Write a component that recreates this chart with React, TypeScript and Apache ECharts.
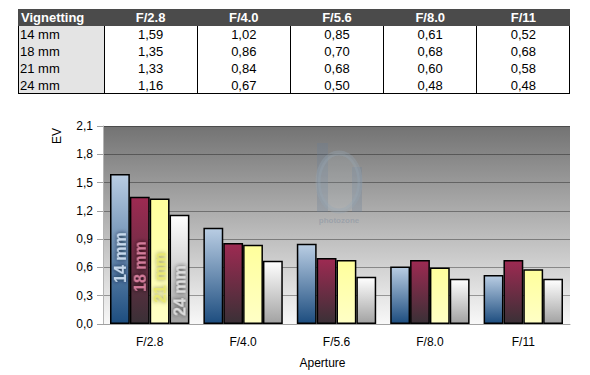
import React, { useEffect, useRef } from "react";
import * as echarts from "echarts";

const apertures = ["F/2.8", "F/4.0", "F/5.6", "F/8.0", "F/11"];
const focalLengths = ["14 mm", "18 mm", "21 mm", "24 mm"];
const vig14 = [1.59, 1.02, 0.85, 0.61, 0.52];
const vig18 = [1.35, 0.86, 0.7, 0.68, 0.68];
const vig21 = [1.33, 0.84, 0.68, 0.6, 0.58];
const vig24 = [1.16, 0.67, 0.5, 0.48, 0.48];
const seriesValues = [vig14, vig18, vig21, vig24];
const tableTitle = "Vignetting";
const yAxisName = "EV";
const xAxisName = "Aperture";
const yMin = 0;
const yMax = 2.1;
const yStep = 0.3;

const FONT = "Arial, 'Liberation Sans', sans-serif";

const barStyles = [
  { top: "#b9cde3", bottom: "#1d4d7f", label: "#c6d8ec", shadow: "rgba(10,25,45,0.95)", dist: 41 },
  { top: "#9e2a52", bottom: "#3a3036", label: "#d27c9a", shadow: "rgba(20,5,10,0.95)", dist: 32 },
  { top: "#ffff9c", bottom: "#ffffc6", label: "#e8e872", shadow: "rgba(110,110,60,0.8)", dist: 21 },
  { top: "#ffffff", bottom: "#a2a2a2", label: "#dcdcdc", shadow: "rgba(40,40,40,0.95)", dist: 8 },
];

const fmt = (v: number) => v.toFixed(1).replace(".", ",");
const fmtCell = (v: number) => v.toFixed(2).replace(".", ",");

const TBL_LEFT = 18;
const TBL_TOP = 9;
const FIRST_W = 86;
const COL_W = 93.2;
const ROW_H = 17;

function Table() {
  const totalW = FIRST_W + COL_W * apertures.length;
  const cells: React.ReactNode[] = [];
  // header
  cells.push(
    <div key="hdr" style={{ position: "absolute", left: 0, top: 0, width: totalW, height: ROW_H, background: "#4b4b4b" }} />
  );
  cells.push(
    <div key="hdr-t" style={{ position: "absolute", left: 3, top: 0, height: ROW_H, lineHeight: ROW_H + "px", color: "#fff", fontWeight: "bold", fontSize: 13 }}>
      {tableTitle}
    </div>
  );
  apertures.forEach((a, j) => {
    cells.push(
      <div key={"h" + j} style={{ position: "absolute", left: FIRST_W + j * COL_W, top: 0, width: COL_W, height: ROW_H, lineHeight: ROW_H + "px", textAlign: "center", color: "#fff", fontWeight: "bold", fontSize: 13 }}>
        {a}
      </div>
    );
  });
  // body box
  const bodyH = ROW_H * focalLengths.length;
  cells.push(
    <div key="body" style={{ position: "absolute", left: 0, top: ROW_H, width: totalW, height: bodyH, boxSizing: "border-box", border: "1px solid #000", borderTop: "none", background: "#fff" }} />
  );
  cells.push(
    <div key="firstcol" style={{ position: "absolute", left: 1, top: ROW_H, width: FIRST_W - 1, height: bodyH - 1, background: "#e4e4e4" }} />
  );
  for (let j = 0; j < apertures.length; j++) {
    cells.push(
      <div key={"v" + j} style={{ position: "absolute", left: FIRST_W + j * COL_W - 0.5, top: ROW_H, width: 1, height: bodyH, background: "#000" }} />
    );
  }
  focalLengths.forEach((f, i) => {
    cells.push(
      <div key={"r" + i} style={{ position: "absolute", left: 2, top: ROW_H * (i + 1), height: ROW_H, lineHeight: ROW_H + "px", color: "#000", fontSize: 13 }}>
        {f}
      </div>
    );
    seriesValues[i].forEach((v, j) => {
      cells.push(
        <div key={"c" + i + "-" + j} style={{ position: "absolute", left: FIRST_W + j * COL_W, top: ROW_H * (i + 1), width: COL_W, height: ROW_H, lineHeight: ROW_H + "px", textAlign: "center", color: "#000", fontSize: 13 }}>
          {fmtCell(v)}
        </div>
      );
    });
  });
  return (
    <div style={{ position: "absolute", left: TBL_LEFT, top: TBL_TOP, width: totalW, height: ROW_H * 5, fontFamily: FONT, zIndex: 2 }}>
      {cells}
    </div>
  );
}

export default function App() {
  const ref = useRef<HTMLDivElement>(null);
  useEffect(() => {
    if (!ref.current) return;
    const chart = echarts.init(ref.current, undefined, { renderer: "svg" });
    const series = focalLengths.map((name, k) => {
      const st = barStyles[k];
      return {
        name,
        type: "bar",
        barCategoryGap: "15%",
        barGap: "0%",
        itemStyle: {
          color: new echarts.graphic.LinearGradient(0, 0, 0, 1, [
            { offset: 0, color: st.top },
            { offset: 1, color: st.bottom },
          ]),
          borderColor: "#000",
          borderWidth: 1.5,
        },
        data: seriesValues[k].map((v, i) =>
          i === 0
            ? {
                value: v,
                label: {
                  show: true,
                  position: "insideBottom",
                  distance: st.dist,
                  rotate: 90,
                  align: "left",
                  verticalAlign: "middle",
                  formatter: name,
                  fontSize: 16,
                  fontWeight: "bold",
                  fontFamily: FONT,
                  color: st.label,
                  textShadowColor: st.shadow,
                  textShadowBlur: 4,
                },
              }
            : v
        ),
      };
    });
    const wm = "rgba(105,125,150,0.28)";
    chart.setOption({
      animation: false,
      backgroundColor: "#ffffff",
      textStyle: { fontFamily: FONT },
      grid: {
        left: 103,
        right: 20,
        top: 126,
        bottom: 51,
        show: true,
        borderWidth: 0,
        backgroundColor: new echarts.graphic.LinearGradient(0, 0, 0, 1, [
          { offset: 0, color: "#737373" },
          { offset: 1, color: "#f8f8f8" },
        ]),
      },
      xAxis: {
        type: "category",
        data: apertures,
        axisLine: { lineStyle: { color: "#a0a0a0" } },
        axisTick: { show: false },
        axisLabel: { color: "#000", fontSize: 12, margin: 12 },
        name: xAxisName,
        nameLocation: "middle",
        nameGap: 33,
        nameTextStyle: { color: "#000", fontSize: 12, padding: [0, 28, 0, 0] },
      },
      yAxis: {
        type: "value",
        min: yMin,
        max: yMax,
        interval: yStep,
        axisLine: { show: true, lineStyle: { color: "#b4b4b4" } },
        axisTick: { show: true, length: 6, lineStyle: { color: "#a0a0a0" } },
        axisLabel: { formatter: fmt, color: "#000", fontSize: 12, margin: 10 },
        splitLine: { lineStyle: { color: "rgba(0,0,0,0.35)" } },
      },
      graphic: [
        { type: "text", x: 57, y: 136, rotation: Math.PI / 2, style: { text: yAxisName, fill: "#000", font: "12px " + FONT, textAlign: "center", textVerticalAlign: "middle" } },
        { type: "rect", z: 1, shape: { x: 317, y: 143, width: 11, height: 69 }, style: { fill: wm } },
        { type: "rect", z: 1, shape: { x: 352, y: 167, width: 10, height: 45 }, style: { fill: wm } },
        { type: "ellipse", z: 1, shape: { cx: 339, cy: 182, rx: 21, ry: 29 }, style: { fill: "rgba(200,210,220,0.12)", stroke: "rgba(150,165,180,0.35)", lineWidth: 5 } },
        { type: "text", z: 1, x: 339, y: 220, style: { text: "photozone", fill: "rgba(120,135,155,0.4)", font: "bold 8px " + FONT, textAlign: "center", textVerticalAlign: "middle" } },
      ],
      series,
    });
    return () => chart.dispose();
  }, []);
  return (
    <div style={{ position: "absolute", left: 0, top: 0, width: 590, height: 375, background: "#fff" }}>
      <div ref={ref} style={{ position: "absolute", left: 0, top: 0, width: 590, height: 375 }} />
      <Table />
    </div>
  );
}
